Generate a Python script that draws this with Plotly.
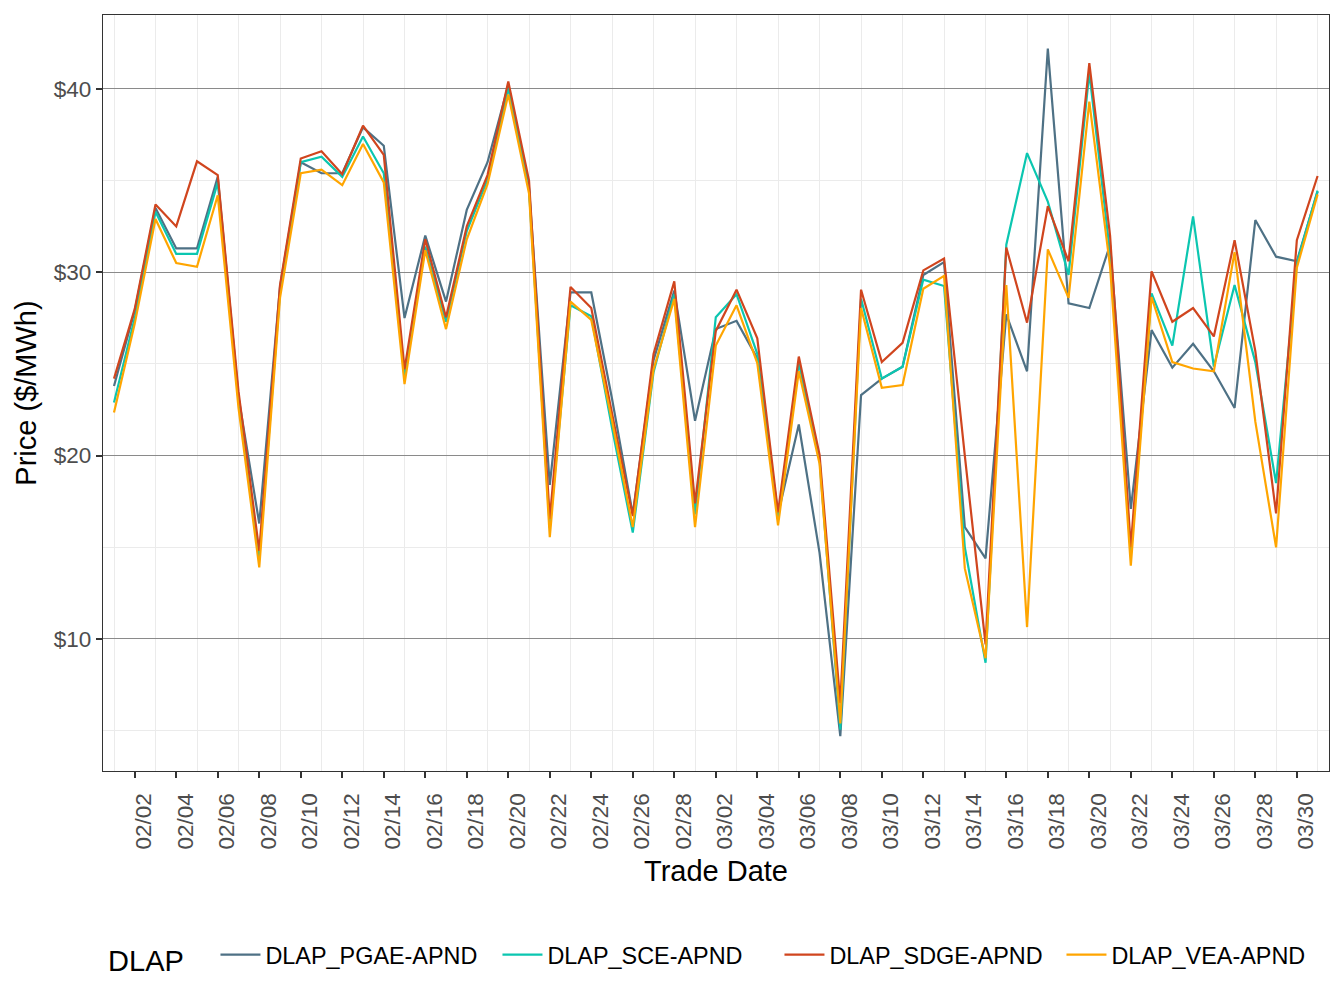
import pandas as pd
import plotly.graph_objects as go

dates = pd.date_range("2023-02-01", "2023-03-31", freq="D")

pgae = [23.8, 27.9, 33.5, 31.3, 31.3, 35.2, 23.2, 16.3, 29.2, 36.0,
        35.4, 35.4, 37.9, 36.9, 27.5, 32.0, 28.4, 33.4, 36.0, 40.2,
        34.6, 18.4, 28.9, 28.9, 23.1, 16.8, 25.2, 29.0, 21.9, 26.9,
        27.35, 25.3, 16.8, 21.7, 14.7, 4.7, 23.3, 24.2, 24.85, 29.85,
        30.55, 16.1, 14.4, 27.7, 24.6, 42.2, 28.3, 28.05, 31.5, 17.1,
        26.85, 24.8, 26.1, 24.6, 22.6, 32.85, 30.85, 30.6, 34.4]
sce = [22.9, 27.5, 33.3, 31.0, 31.0, 34.9, 23.0, 14.4, 28.9, 36.0,
       36.3, 35.2, 37.4, 35.4, 24.3, 31.4, 27.3, 32.25, 35.05, 40.05,
       34.5, 16.05, 28.2, 27.6, 21.5, 15.8, 24.55, 28.8, 16.8, 27.55,
       28.8, 25.55, 16.55, 25.05, 19.8, 5.05, 28.55, 24.2, 24.85, 29.6,
       29.25, 15.0, 8.7, 31.5, 36.5, 33.85, 29.85, 40.9, 31.0, 14.6,
       28.85, 26.0, 33.05, 24.85, 29.3, 25.1, 18.5, 30.5, 34.45]
sdge = [24.2, 28.0, 33.7, 32.5, 36.05, 35.3, 23.5, 14.8, 29.3, 36.2,
        36.6, 35.35, 38.0, 36.4, 24.7, 31.8, 27.55, 32.5, 35.3, 40.4,
        35.0, 16.55, 29.2, 28.05, 22.3, 16.7, 25.55, 29.5, 17.4, 26.8,
        29.05, 26.4, 16.9, 25.4, 20.05, 6.5, 29.05, 25.1, 26.15, 30.1,
        30.75, 20.0, 9.7, 31.35, 27.25, 33.6, 30.6, 41.4, 32.0, 15.0,
        30.05, 27.3, 28.05, 26.5, 31.75, 25.7, 16.85, 31.75, 35.25]
vea = [22.35, 27.2, 32.9, 30.5, 30.3, 34.2, 22.6, 13.9, 28.6, 35.4,
       35.6, 34.75, 37.0, 34.9, 23.9, 31.2, 26.9, 31.8, 34.8, 39.7,
       34.3, 15.55, 28.4, 27.4, 21.9, 16.1, 24.7, 28.55, 16.1, 26.0,
       28.2, 25.05, 16.2, 24.6, 19.55, 5.4, 28.05, 23.7, 23.85, 29.1,
       29.8, 13.85, 8.95, 29.3, 10.65, 31.25, 28.6, 39.3, 30.3, 14.0,
       28.65, 25.1, 24.75, 24.6, 31.1, 21.85, 15.0, 30.25, 34.25]

series_names = ["DLAP_PGAE-APND", "DLAP_SCE-APND", "DLAP_SDGE-APND", "DLAP_VEA-APND"]
series_values = [pgae, sce, sdge, vea]
colors = ["#4E7185", "#0BC6B0", "#D0451E", "#FFA500"]

y_tick_vals = [10, 20, 30, 40]
y_tick_text = ["$10", "$20", "$30", "$40"]
y_minor_vals = [5, 15, 25, 35]
x_major_dates = list(dates[1::2])
x_minor_dates = list(dates[0::2])

FONT = "Liberation Sans, Arial, sans-serif"

fig = go.Figure()
for name, vals, col in zip(series_names, series_values, colors):
    fig.add_trace(go.Scatter(x=dates, y=vals, mode="lines", name=name,
                             line=dict(color=col, width=2.2)))

fig.update_layout(
    width=1344, height=1008,
    margin=dict(l=103, r=15, t=15, b=237),
    paper_bgcolor="white", plot_bgcolor="white",
    font=dict(family=FONT, color="black"),
    showlegend=True,
    legend=dict(orientation="h", x=-0.001, xanchor="left",
                y=-0.246, yanchor="middle",
                title=dict(text=" DLAP   ", font=dict(size=29, color="black"), side="left"),
                font=dict(size=23.4, color="black"), itemwidth=40,
                entrywidth=227, entrywidthmode="pixels"),
)

fig.update_xaxes(
    range=["2023-01-31 11:17", "2023-03-31 13:12"],
    tickmode="array", tickvals=x_major_dates,
    ticktext=[d.strftime("%m/%d") for d in x_major_dates],
    tickangle=-90, ticklabelshift=9, ticklabelstandoff=6,
    tickfont=dict(size=22.5, color="#4D4D4D"),
    ticks="outside", ticklen=6, tickwidth=1.5, tickcolor="#333333",
    showgrid=False,
    minor=dict(tickmode="array", tickvals=x_minor_dates, showgrid=True,
               gridcolor="#EBEBEB", gridwidth=1.3, ticks=""),
    showline=True, linecolor="#333333", linewidth=1.3, mirror=True,
    title=dict(text="Trade Date", font=dict(size=29, color="black"), standoff=12),
    zeroline=False,
)
fig.update_yaxes(
    range=[2.8, 44.03],
    tickmode="array", tickvals=y_tick_vals, ticktext=y_tick_text,
    tickfont=dict(size=22.5, color="#4D4D4D"),
    ticks="outside", ticklen=6, tickwidth=1.5, tickcolor="#333333",
    showgrid=True, gridcolor="#8A8A8A", gridwidth=1,
    minor=dict(tickmode="array", tickvals=y_minor_vals, showgrid=True,
               gridcolor="#EBEBEB", gridwidth=1.3, ticks=""),
    showline=True, linecolor="#333333", linewidth=1.3, mirror=True,
    title=dict(text="Price ($/MWh)", font=dict(size=29, color="black"), standoff=8),
    zeroline=False,
)

fig.write_html("out.html")
